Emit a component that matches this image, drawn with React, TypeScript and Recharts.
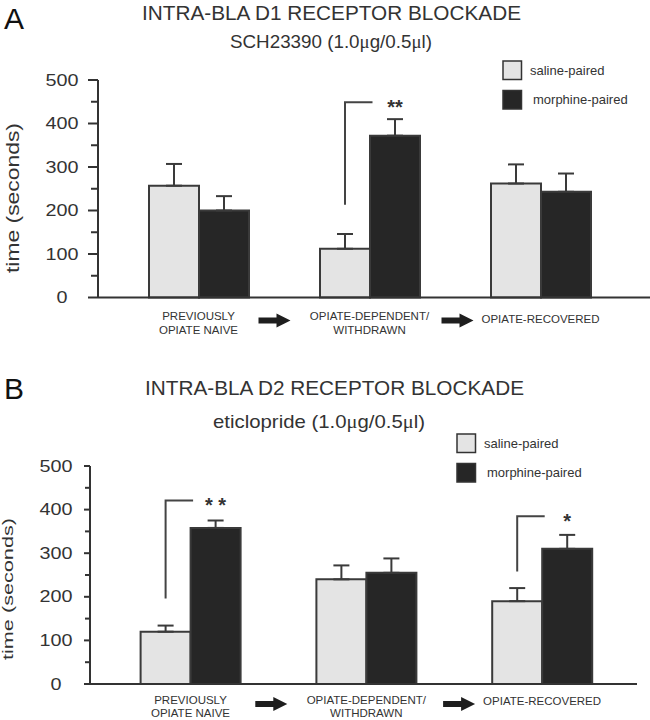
import React from "react";
import { BarChart, Bar, XAxis, YAxis, ErrorBar, LabelList, Legend } from "recharts";

// ---------- data ----------
const categories = ["PREVIOUSLY OPIATE NAIVE", "OPIATE-DEPENDENT/ WITHDRAWN", "OPIATE-RECOVERED"];
const categoryLines = [["PREVIOUSLY", "OPIATE NAIVE"], ["OPIATE-DEPENDENT/", "WITHDRAWN"], ["OPIATE-RECOVERED"]];
const seriesNames = ["saline-paired", "morphine-paired"];
const yTicks = [0, 50, 100, 150, 200, 250, 300, 350, 400, 450, 500];

// Panel A: intra-BLA D1 receptor blockade (SCH23390)
const d1Saline = [257, 112, 262];
const d1SalineSem = [50, 34, 44];
const d1Morphine = [200, 372, 243];
const d1MorphineSem = [33, 38, 42];
const d1Sig = ["", "**", ""];
const d1BracketFrom = [0, 213, 0];
const d1BracketTo = [0, 449, 0];

// Panel B: intra-BLA D2 receptor blockade (eticlopride)
const d2Saline = [120, 240, 190];
const d2SalineSem = [14, 32, 30];
const d2Morphine = [358, 255, 310];
const d2MorphineSem = [17, 33, 32];
const d2Sig = ["* *", "", "*"];
const d2BracketFrom = [196, 0, 258];
const d2BracketTo = [421, 0, 385];

// ---------- styles ----------
const FONT = "'Liberation Sans', Arial, Helvetica, sans-serif";
const SERIF = "'Liberation Serif', 'DejaVu Serif', serif";
const INK = "#333333";
const seriesFills = ["#e4e4e4", "#262626"];
const BAR_STROKE = "#3a3a3a";
const arrowOffsets = [0, -95, -83];

function buildRows(s: number[], ss: number[], m: number[], ms: number[], sig: string[], bf: number[], bt: number[]) {
  return categories.map((c, i) => ({
    name: c,
    saline: s[i],
    salineErr: [0, ss[i]],
    morphine: m[i],
    morphineErr: [0, ms[i]],
    sig: sig[i],
    from: bf[i],
    to: bt[i],
  }));
}

const rowsA = buildRows(d1Saline, d1SalineSem, d1Morphine, d1MorphineSem, d1Sig, d1BracketFrom, d1BracketTo);
const rowsB = buildRows(d2Saline, d2SalineSem, d2Morphine, d2MorphineSem, d2Sig, d2BracketFrom, d2BracketTo);

const makeYTick = (cfg: any) => (props: any) => {
  const { x, y, payload } = props;
  const v = payload.value;
  const major = v % 100 === 0;
  return (
    <g>
      <line x1={x - (major ? cfg.tickMajor : cfg.tickMinor)} x2={x} y1={y} y2={y} stroke={INK} strokeWidth={2} />
      {major && (
        <text
          x={x - cfg.labelOffset}
          y={y + 5.5}
          textAnchor="middle"
          fontSize={16}
          fontFamily={FONT}
          fill={INK}
          textLength={String(v).length * 11}
          lengthAdjust="spacingAndGlyphs"
        >
          {v}
        </text>
      )}
    </g>
  );
};

const makeXTick = (cfg: any) => (props: any) => {
  const { x, y, payload } = props;
  const i = categories.indexOf(payload.value);
  const lines = categoryLines[i] || [payload.value];
  const ax = x + arrowOffsets[i];
  const ay = y + cfg.arrowDy;
  return (
    <g>
      {lines.map((l: string, k: number) => (
        <text
          key={k}
          x={x}
          y={lines.length === 1 ? y + cfg.singleDy : y + cfg.line1Dy + k * cfg.lineGap}
          textAnchor="middle"
          fontSize={11.5}
          fontFamily={FONT}
          fill={INK}
        >
          {l}
        </text>
      ))}
      {i > 0 && (
        <path
          d={`M${ax - 16},${ay - 3} L${ax + 2},${ay - 3} L${ax + 2},${ay - 7} L${ax + 16},${ay} L${ax + 2},${ay + 7} L${ax + 2},${ay + 3} L${ax - 16},${ay + 3} Z`}
          fill="#1e1e1e"
        />
      )}
    </g>
  );
};

const makeBracket = (rows: any[]) => (props: any) => {
  const { x, y, width, height, index } = props;
  const row = rows[index];
  if (!row || !row.sig) return null;
  const base = Number(y) + Number(height);
  const ppu = Number(height) / row.saline;
  const cx = Number(x) + Number(width) / 2;
  const yFrom = base - row.from * ppu;
  const yTo = base - row.to * ppu;
  const mx = Number(x) + Number(width) * 1.5;
  return (
    <g>
      <path d={`M${cx},${yFrom} L${cx},${yTo} L${cx + width * 0.55},${yTo}`} fill="none" stroke="#444" strokeWidth={2} />
      <text x={mx} y={yTo + 11.5} textAnchor="middle" fontSize={20} fontWeight="bold" fontFamily={FONT} fill={INK}>
        {row.sig}
      </text>
    </g>
  );
};

const renderLegend = () => (
  <svg width={150} height={52} style={{ display: "block", overflow: "visible" }}>
    {seriesNames.map((n, i) => (
      <g key={n}>
        <rect x={1} y={1 + i * 29.5} width={18.5} height={18.5} fill={seriesFills[i]} stroke={INK} strokeWidth={1.5} />
        <text x={28 + i * 3} y={10 + i * 29.5 + 4.5} fontSize={13} fontFamily={FONT} fill={INK}>
          {n}
        </text>
      </g>
    ))}
  </svg>
);

function Panel({ rows, cfg }: { rows: any[]; cfg: any }) {
  return (
    <div style={{ position: "absolute", left: 0, top: cfg.top, width: 650, height: cfg.height }}>
      <BarChart
        width={650}
        height={cfg.height}
        data={rows}
        margin={{ top: cfg.plotTop, right: cfg.rightMargin, left: 0, bottom: cfg.bottomMargin }}
        barGap={0}
      >
        <XAxis
          dataKey="name"
          type="category"
          height={cfg.xAxisHeight}
          padding={{ left: cfg.padL, right: cfg.padR }}
          axisLine={{ stroke: INK, strokeWidth: 2 }}
          tickLine={false}
          tickSize={0}
          tickMargin={0}
          interval={0}
          tick={makeXTick(cfg)}
        />
        <YAxis
          type="number"
          domain={[0, 500]}
          ticks={yTicks}
          interval={0}
          width={cfg.axisWidth}
          axisLine={{ stroke: INK, strokeWidth: 2 }}
          tickLine={false}
          tickSize={0}
          tickMargin={0}
          tick={makeYTick(cfg)}
        />
        <Legend
          layout="vertical"
          align="center"
          verticalAlign="middle"
          content={renderLegend}
          wrapperStyle={{ position: "absolute", left: cfg.legendLeft, top: cfg.legendTop, width: 150, height: 52 }}
        />
        <Bar
          dataKey="saline"
          name={seriesNames[0]}
          fill={seriesFills[0]}
          stroke={BAR_STROKE}
          strokeWidth={2}
          barSize={50}
          isAnimationActive={false}
        >
          <ErrorBar dataKey="salineErr" width={8} stroke={BAR_STROKE} strokeWidth={2} direction="y" />
          <LabelList dataKey="sig" content={makeBracket(rows)} />
        </Bar>
        <Bar
          dataKey="morphine"
          name={seriesNames[1]}
          fill={seriesFills[1]}
          stroke={BAR_STROKE}
          strokeWidth={2}
          barSize={50}
          isAnimationActive={false}
        >
          <ErrorBar dataKey="morphineErr" width={8} stroke={BAR_STROKE} strokeWidth={2} direction="y" />
        </Bar>
      </BarChart>
    </div>
  );
}

const cfgA = {
  top: 0, height: 350, plotTop: 80, axisWidth: 98, rightMargin: 0, xAxisHeight: 50, bottomMargin: 2.5,
  padL: 15, padR: 24, tickMajor: 10, tickMinor: 7, labelOffset: 36, legendLeft: 502, legendTop: 60,
  line1Dy: 22, lineGap: 14, singleDy: 25, arrowDy: 23,
};
const cfgB = {
  top: 360, height: 360, plotTop: 106, axisWidth: 90, rightMargin: 13, xAxisHeight: 34, bottomMargin: 2,
  padL: 12.6, padR: 7, tickMajor: 6, tickMinor: 5, labelOffset: 34, legendLeft: 456, legendTop: 73,
  line1Dy: 20, lineGap: 13, singleDy: 21, arrowDy: 20,
};

export default function App() {
  return (
    <div style={{ position: "absolute", left: 0, top: 0, width: 650, height: 720, background: "#fff", overflow: "hidden", fontFamily: FONT }}>
      <Panel rows={rowsA} cfg={cfgA} />
      <Panel rows={rowsB} cfg={cfgB} />
      <svg width={650} height={720} style={{ position: "absolute", left: 0, top: 0, pointerEvents: "none" }}>
        {/* Panel A texts */}
        <text x={4} y={29} fontSize={30} fontFamily={FONT} fill="#111">A</text>
        <text x={331.5} y={20} textAnchor="middle" fontSize={21} fontFamily={FONT} fill={INK} textLength={379} lengthAdjust="spacingAndGlyphs">
          INTRA-BLA D1 RECEPTOR BLOCKADE
        </text>
        <text x={331} y={48} textAnchor="middle" fontSize={19} fontFamily={FONT} fill={INK} textLength={202} lengthAdjust="spacingAndGlyphs">
          SCH23390 (1.0<tspan fontFamily={SERIF}>μ</tspan>g/0.5<tspan fontFamily={SERIF}>μ</tspan>l)
        </text>
        <text transform="translate(19,198) rotate(-90)" textAnchor="middle" fontSize={19} fontFamily={FONT} fill={INK} textLength={150} lengthAdjust="spacingAndGlyphs">
          time (seconds)
        </text>
        {/* Panel B texts */}
        <text x={4} y={399} fontSize={30} fontFamily={FONT} fill="#111">B</text>
        <text x={334.5} y={395} textAnchor="middle" fontSize={21} fontFamily={FONT} fill={INK} textLength={379} lengthAdjust="spacingAndGlyphs">
          INTRA-BLA D2 RECEPTOR BLOCKADE
        </text>
        <text x={319} y={428} textAnchor="middle" fontSize={19} fontFamily={FONT} fill={INK} textLength={212} lengthAdjust="spacingAndGlyphs">
          eticlopride (1.0<tspan fontFamily={SERIF}>μ</tspan>g/0.5<tspan fontFamily={SERIF}>μ</tspan>l)
        </text>
        <text transform="translate(12.5,589) rotate(-90)" textAnchor="middle" fontSize={15} fontFamily={FONT} fill={INK} textLength={142} lengthAdjust="spacingAndGlyphs">
          time (seconds)
        </text>
      </svg>
    </div>
  );
}
